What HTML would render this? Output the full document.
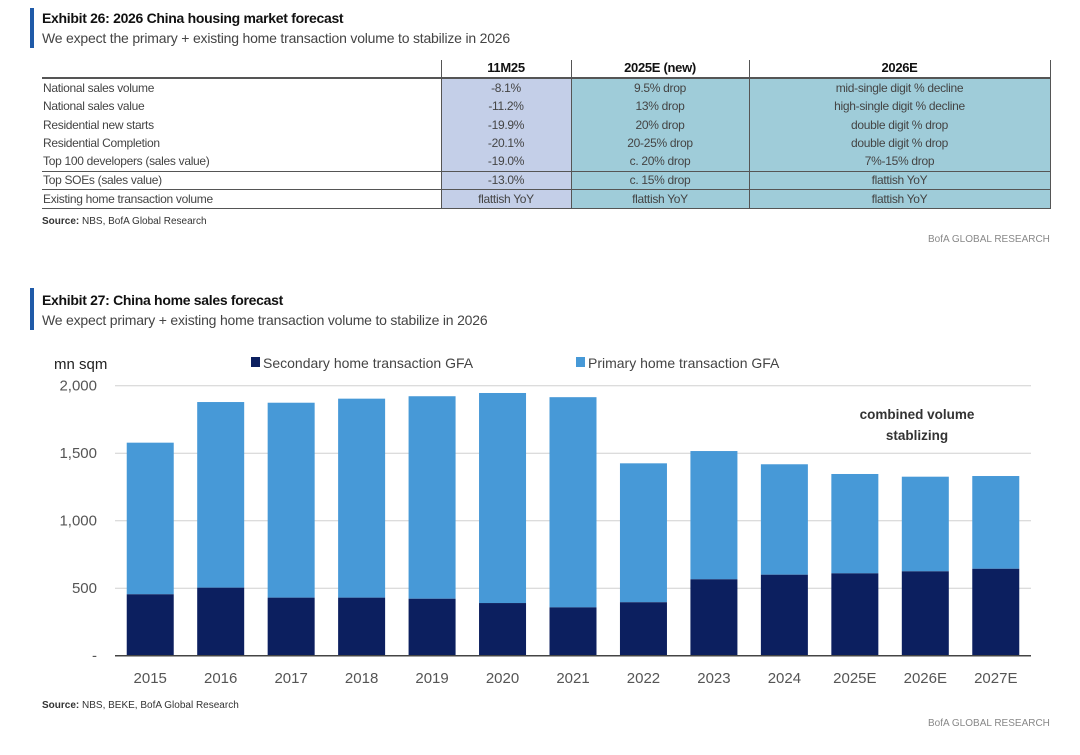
<!DOCTYPE html>
<html><head><meta charset="utf-8"><style>
body{margin:0;width:1080px;height:755px;background:#fff;position:relative;overflow:hidden;font-family:"Liberation Sans",sans-serif;color:#333}
.a{position:absolute;white-space:nowrap}
.bar{position:absolute;background:#1f5aa8;width:4px}
.t1{font-weight:bold;font-size:14px;color:#111;letter-spacing:-0.3px}
.t2{font-size:14px;color:#444;letter-spacing:-0.2px}
.cell{position:absolute;font-size:12px;color:#444;text-align:center;letter-spacing:-0.3px;line-height:18px}
.lab{position:absolute;font-size:12px;color:#444;left:43px;letter-spacing:-0.3px;line-height:18px}
.hl{position:absolute;height:1px;background:#555}
.vl{position:absolute;width:1px;background:#555}
</style></head><body>
<div class="bar" style="left:30px;top:8px;height:40px"></div>
<div class="a t1" style="left:42px;top:10px">Exhibit 26: 2026 China housing market forecast</div>
<div class="a t2" style="left:42px;top:30px">We expect the primary + existing home transaction volume to stabilize in 2026</div>

<div>
<div class="a" style="left:441px;top:78px;width:130px;height:131px;background:#c4cfe8"></div>
<div class="a" style="left:571px;top:78px;width:479px;height:131px;background:#9fccd9"></div>
<div class="vl" style="left:441px;top:60px;height:149px"></div>
<div class="vl" style="left:571px;top:60px;height:149px"></div>
<div class="vl" style="left:749px;top:60px;height:149px"></div>
<div class="vl" style="left:1050px;top:60px;height:149px"></div>
<div class="hl" style="left:42px;top:77px;width:1008px;height:2px"></div>
<div class="hl" style="left:42px;top:171px;width:1008px"></div>
<div class="hl" style="left:42px;top:189px;width:1008px"></div>
<div class="hl" style="left:42px;top:208px;width:1008px"></div>
<div class="cell" style="left:441px;width:130px;top:59px;font-weight:bold;font-size:13px;color:#111">11M25</div>
<div class="cell" style="left:571px;width:178px;top:59px;font-weight:bold;font-size:13px;color:#111">2025E (new)</div>
<div class="cell" style="left:749px;width:301px;top:59px;font-weight:bold;font-size:13px;color:#111">2026E</div>
<div id="rows"></div>
</div>
<div class="a" style="left:42px;top:216px;font-size:10px;color:#333"><b>Source:</b> NBS, BofA Global Research</div>
<div class="a" style="left:928px;top:234px;font-size:10px;color:#888">BofA GLOBAL RESEARCH</div>

<div class="bar" style="left:30px;top:288px;height:42px"></div>
<div class="a t1" style="left:42px;top:292px">Exhibit 27: China home sales forecast</div>
<div class="a t2" style="left:42px;top:312px">We expect primary + existing home transaction volume to stabilize in 2026</div>

<svg class="a" style="left:0;top:0" width="1080" height="755" id="chart"></svg>

<div class="a" style="left:42px;top:700px;font-size:10px;color:#333"><b>Source:</b> NBS, BEKE, BofA Global Research</div>
<div class="a" style="left:928px;top:718px;font-size:10px;color:#888">BofA GLOBAL RESEARCH</div>

<script>
const rowLabels=["National sales volume","National sales value","Residential new starts","Residential Completion","Top 100 developers (sales value)","Top SOEs (sales value)","Existing home transaction volume"];
const col11M25=["-8.1%","-11.2%","-19.9%","-20.1%","-19.0%","-13.0%","flattish YoY"];
const col2025=["9.5% drop","13% drop","20% drop","20-25% drop","c. 20% drop","c. 15% drop","flattish YoY"];
const col2026=["mid-single digit % decline","high-single digit % decline","double digit % drop","double digit % drop","7%-15% drop","flattish YoY","flattish YoY"];
const rowTops=[79,97,116,134,152,171,190];
const rc=document.getElementById('rows');
rowLabels.forEach((l,i)=>{
  const y=rowTops[i];
  const d=document.createElement('div');d.className='lab';d.style.top=y+'px';d.textContent=l;
  
  
  rc.appendChild(d);
  [[441,130,col11M25],[571,178,col2025],[749,301,col2026]].forEach(([x,w,arr])=>{
    const c=document.createElement('div');c.className='cell';c.style.left=x+'px';c.style.width=w+'px';c.style.top=y+'px';c.textContent=arr[i];
    
    
    rc.appendChild(c);
  });
});

const years=["2015","2016","2017","2018","2019","2020","2021","2022","2023","2024","2025E","2026E","2027E"];
const secondary=[455,504,430,430,422,390,358,396,566,600,610,625,644];
const total=[1578,1879,1874,1904,1922,1946,1915,1425,1516,1418,1346,1326,1331];
const yTicks=[0,500,1000,1500,2000];
const yTickLabels=["-","500","1,000","1,500","2,000"];
const NS='http://www.w3.org/2000/svg';
const svg=document.getElementById('chart');
const L=115,R=1031,y0=655.7,yTop=385.7,vmax=2000;
const y=v=>y0-(v/vmax)*(y0-yTop);
const slot=(R-L)/years.length;
const x=i=>L+slot*(i+0.5);
const bw=47;
function el(t,a,txt){const e=document.createElementNS(NS,t);for(const k in a)e.setAttribute(k,a[k]);if(txt!==undefined)e.textContent=txt;svg.appendChild(e);return e;}
yTicks.forEach((t,i)=>{
  if(t>0){const g=el('line',{x1:L,x2:R,y1:y(t),y2:y(t),stroke:'#d0d0d0','stroke-width':1});
  
  }
  const tx=el('text',{x:97,y:y(t)+5,'text-anchor':'end','font-size':15,fill:'#555','font-family':'Liberation Sans, sans-serif'},yTickLabels[i]);
  
  
});
years.forEach((yr,i)=>{
  const p=el('rect',{x:x(i)-bw/2,y:y(total[i]),width:bw,height:y(secondary[i])-y(total[i]),fill:'#4799d7'});
  
  
  const s=el('rect',{x:x(i)-bw/2,y:y(secondary[i]),width:bw,height:y0-y(secondary[i]),fill:'#0c1f5f'});
  
  
  const t=el('text',{x:x(i),y:683,'text-anchor':'middle','font-size':15,fill:'#555','font-family':'Liberation Sans, sans-serif'},yr);
  
  
});
const ax=el('line',{x1:L,x2:R,y1:y0,y2:y0,stroke:'#444','stroke-width':1.5});


const u=el('text',{x:54,y:369,'font-size':15,fill:'#222','font-family':'Liberation Sans, sans-serif'},'mn sqm');


const lg1=el('rect',{x:251,y:357,width:9,height:10,fill:'#0c1f5f'});


const lt1=el('text',{x:263,y:368,'font-size':14,fill:'#444','font-family':'Liberation Sans, sans-serif'},'Secondary home transaction GFA');


const lg2=el('rect',{x:576,y:357,width:9,height:10,fill:'#4799d7'});


const lt2=el('text',{x:588,y:368,'font-size':14,fill:'#444','font-family':'Liberation Sans, sans-serif'},'Primary home transaction GFA');


const an1=el('text',{x:917,y:419,'text-anchor':'middle','font-size':13.5,'font-weight':'bold',fill:'#333','font-family':'Liberation Sans, sans-serif'},'combined volume');


const an2=el('text',{x:917,y:440,'text-anchor':'middle','font-size':13.5,'font-weight':'bold',fill:'#333','font-family':'Liberation Sans, sans-serif'},'stablizing');


</script>
</body></html>
